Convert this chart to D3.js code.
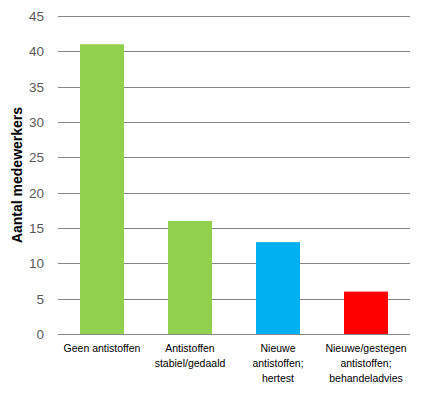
<!DOCTYPE html>
<html>
<head>
<meta charset="utf-8">
<script src="https://cdn.jsdelivr.net/npm/d3@7"></script>
<style>
  body { margin: 0; background: #fff; }
</style>
</head>
<body>
<div id="chart"></div>
<script>
// data
const categories = [
    ["Geen antistoffen"],
    ["Antistoffen", "stabiel/gedaald"],
    ["Nieuwe", "antistoffen;", "hertest"],
    ["Nieuwe/gestegen", "antistoffen;", "behandeladvies"]
];
const values = [41, 16, 13, 6];
const barColors = ["#92D050", "#92D050", "#00B0F0", "#FF0000"];
const yTicks = [0, 5, 10, 15, 20, 25, 30, 35, 40, 45];
const yTitle = "Aantal medewerkers";

const margin = { top: 16, right: 14, bottom: 61, left: 58 },
      width = 424 - margin.left - margin.right,
      height = 395 - margin.top - margin.bottom;

const svg = d3.select("#chart")
              .append("svg")
              .attr("width", 424)
              .attr("height", 395)
              .append("g")
              .attr("transform", `translate(${margin.left},${margin.top})`);

const x = d3.scaleBand()
            .domain(d3.range(categories.length))
            .range([0, width])
            .paddingInner(0.5)
            .paddingOuter(0.25);

const y = d3.scaleLinear()
            .domain([0, 45])
            .range([height, 0]);

// gridlines
svg.selectAll(".grid")
   .data(yTicks)
   .enter()
   .append("line")
   .attr("x1", 0)
   .attr("x2", width)
   .attr("y1", d => Math.round(y(d)) + 0.5)
   .attr("y2", d => Math.round(y(d)) + 0.5)
   .attr("stroke", "#868686")
   .attr("stroke-width", 1);

// y tick labels
svg.selectAll(".ytick")
   .data(yTicks)
   .enter()
   .append("text")
   .attr("x", -14)
   .attr("y", d => y(d))
   .attr("dy", "0.36em")
   .attr("text-anchor", "end")
   .style("font-family", "'Liberation Sans', Arial, sans-serif")
   .style("font-size", "13.5px")
   .style("fill", "#595959")
   .text(d => d);

// bars
svg.selectAll(".bar")
   .data(values)
   .enter()
   .append("rect")
   .attr("x", (d, i) => x(i))
   .attr("y", d => y(d))
   .attr("width", x.bandwidth())
   .attr("height", d => height - y(d))
   .attr("fill", (d, i) => barColors[i]);

// category labels
const cat = svg.selectAll(".cat")
               .data(categories)
               .enter()
               .append("text")
               .attr("text-anchor", "middle")
               .style("font-family", "'Liberation Sans', Arial, sans-serif")
               .style("font-size", "10.5px")
               .style("fill", "#000");

cat.selectAll("tspan")
   .data((d, i) => d.map(t => ({ t, i })))
   .enter()
   .append("tspan")
   .attr("x", d => x(d.i) + x.bandwidth() / 2)
   .attr("y", (d, j) => height + 18 + j * 15)
   .text(d => d.t);

// y axis title
svg.append("text")
   .attr("transform", `translate(-36,${height / 2}) rotate(-90)`)
   .attr("text-anchor", "middle")
   .style("font-family", "'Liberation Sans', Arial, sans-serif")
   .style("font-size", "14px")
   .style("font-weight", "bold")
   .style("fill", "#000")
   .text(yTitle);
</script>
</body>
</html>
